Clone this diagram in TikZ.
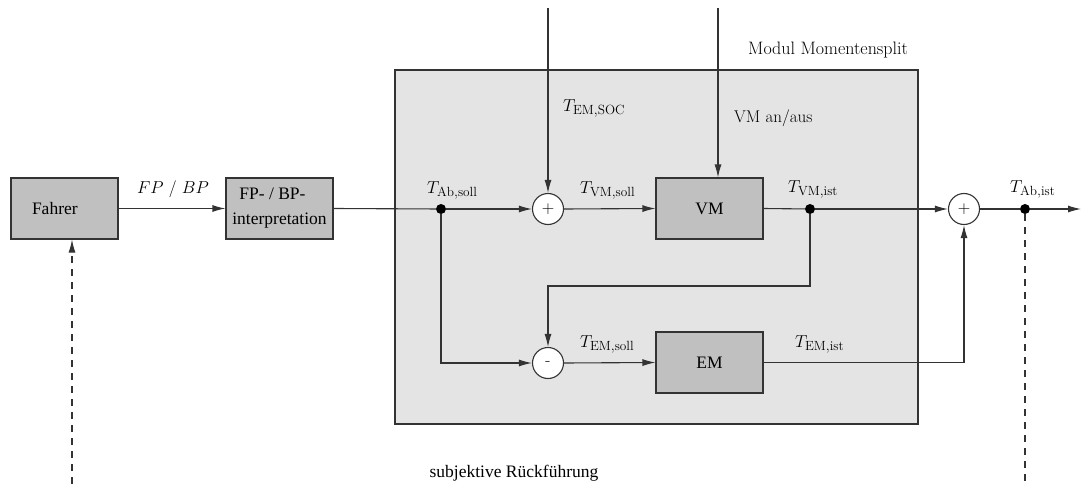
\documentclass[tikz,border=0pt]{standalone}
\usepackage{fontspec}
\newfontfamily\timesfont{Liberation Serif}
\usetikzlibrary{arrows.meta}
\definecolor{linegray}{HTML}{333333}
\definecolor{blockgray}{HTML}{C0C0C0}
\definecolor{modulegray}{HTML}{E4E4E4}

\begin{document}
\begin{tikzpicture}[x=1pt,y=-1pt,
  >={Latex[length=13pt,width=7pt]},
  wire/.style={draw=linegray, line width=1.1pt},
  fb/.style={wire, dash pattern=on 7pt off 6pt},
  block/.style={draw=linegray, line width=1.1pt, fill=blockgray,
    minimum width=107pt, minimum height=61pt, inner sep=0pt,
    font=\timesfont\fontsize{17.5}{25}\selectfont},
  sumnode/.style={circle, draw=linegray, line width=1.1pt, fill=white,
    minimum size=31pt, inner sep=0pt, font=\fontsize{17}{17}\selectfont},
  dot/.style={circle, fill=black, minimum size=10pt, inner sep=0pt},
  sig/.style={anchor=base west, inner sep=0pt, font=\fontsize{19}{19}\selectfont},
  plain/.style={inner sep=0pt, font=\fontsize{17}{17}\selectfont},
  serif/.style={inner sep=0pt, font=\timesfont\fontsize{17.5}{21}\selectfont}
]
\useasboundingbox (0,0) rectangle (1083,484);

% module frame
\node[draw=linegray, line width=1.1pt, fill=modulegray,
      minimum width=523pt, minimum height=354pt, inner sep=0pt] (modul) at (656.5,247) {};
\node[plain, anchor=base west, font=\fontsize{18}{18}\selectfont] (modultitle) at (748,55) {Modul Momentensplit};

% driver and pedal interpretation
\node[block, text width=65pt, align=left, inner xsep=21pt] (fahrer) at (64.5,208.5) {Fahrer};
\node[block, align=center] (interp) at (279.5,208.5) {FP- / BP-\hspace*{14pt}\\interpretation};

% machines
\node[block] (vm) at (709.5,208.5) {VM};
\node[block] (em) at (709.5,362.5) {EM};

% summing points and branch points
\node[sumnode] (plus) at (548,209) {$+$};
\node[sumnode] (minus) at (548,363) {-};
\node[sumnode] (total) at (964,209) {$+$};
\node[dot] (dab) at (441,209) {};
\node[dot] (dvm) at (810,209) {};
\node[dot] (dout) at (1025,209) {};

% free ends
\coordinate (socin) at (548,8);
\coordinate (vmin) at (718,8);
\coordinate (out) at (1081,209);
\coordinate (fbl) at (72,484);
\coordinate (fbr) at (1025,484);
\coordinate (cross) at (548,286);

% signal paths
\draw[wire,->] (fahrer.east) -- (interp.west);
\draw[wire] (interp.east) -- (dab);
\draw[wire,->] (dab) -- (plus.west);
\draw[wire,->] (socin) -- (plus.north);
\draw[wire,->] (plus.east) -- (vm.west);
\draw[wire,->] (vmin) -- (vmin |- vm.north);
\draw[wire] (vm.east) -- (dvm);
\draw[wire,->] (dvm) -- (total.west);
\draw[wire,->] (total.east) -- (dout) -- (out);
\draw[wire,->] (dvm) |- (cross) -- (minus.north);
\draw[wire,->] (dab) |- (minus.west);
\draw[wire,->] (minus.east) -- (em.west);
\draw[wire,->] (em.east) -| (total.south);

% subjective feedback
\draw[fb,->] (fbl) -- (fbl |- fahrer.south);
\draw[fb] (dout) -- (fbr);

% signal labels
\node[sig, font=\fontsize{17}{17}\selectfont] (lfpbp) at (137,193) {$FP$ / $BP$};
\node[sig] (labsoll) at (427,193) {$T_{\mathrm{Ab,soll}}$};
\node[sig] (lvmsoll) at (580,193) {$T_{\mathrm{VM,soll}}$};
\node[sig] (lvmist) at (788,192) {$T_{\mathrm{VM,ist}}$};
\node[sig] (labist) at (1010,192) {$T_{\mathrm{Ab,ist}}$};
\node[sig] (lemsoll) at (580,347) {$T_{\mathrm{EM,soll}}$};
\node[sig] (lemist) at (795,347) {$T_{\mathrm{EM,ist}}$};
\node[sig] (lsoc) at (563,111) {$T_{\mathrm{EM,SOC}}$};
\node[plain, anchor=base west] (lvmonoff) at (734,122) {VM an/aus};
\node[serif, anchor=base] (lsubj) at (514,477) {subjektive Rückführung};
\end{tikzpicture}
\end{document}
